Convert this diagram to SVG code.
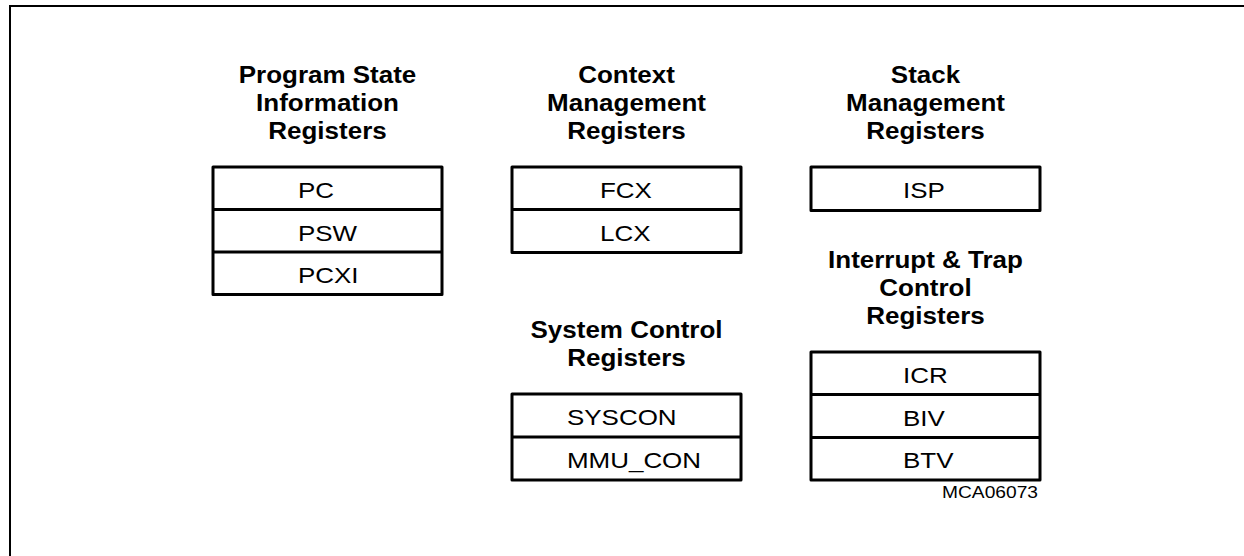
<svg xmlns="http://www.w3.org/2000/svg" width="1244" height="556" viewBox="0 0 1244 556">
  <style>
    .frame { fill: none; stroke: #000; stroke-width: 2; }
    .box { fill: #fff; stroke: #000; stroke-width: 3; stroke-linejoin: round; }
    .sep { stroke: #000; stroke-width: 3; }
    .title { font-family: "Liberation Sans", Arial, sans-serif; font-weight: bold; font-size: 23px; fill: #000; text-anchor: middle; }
    .reg { font-family: "Liberation Sans", Arial, sans-serif; font-size: 22px; fill: #000; text-anchor: start; }
    .code { font-family: "Liberation Sans", Arial, sans-serif; font-size: 16px; fill: #000; text-anchor: end; }
  </style>
  <rect width="1244" height="556" fill="#fff"/>

  <!-- open frame: top and left edges only -->
  <path class="frame" d="M10 556 V6 H1244"/>

  <!-- Program State Information Registers -->
  <g id="program-state">
    <text class="title" transform="translate(327.5 83) scale(1.13 1)"><tspan x="0" y="0">Program State</tspan><tspan x="0" y="28">Information</tspan><tspan x="0" y="56">Registers</tspan></text>
    <rect class="box" x="213" y="167" width="229" height="127.5"/>
    <line class="sep" x1="213" y1="209.5" x2="442" y2="209.5"/>
    <line class="sep" x1="213" y1="252" x2="442" y2="252"/>
    <text class="reg" transform="translate(298 198) scale(1.18 1)">PC</text>
    <text class="reg" transform="translate(298 240.5) scale(1.18 1)">PSW</text>
    <text class="reg" transform="translate(298 283) scale(1.18 1)">PCXI</text>
  </g>

  <!-- Context Management Registers -->
  <g id="context-management">
    <text class="title" transform="translate(626.5 83) scale(1.13 1)"><tspan x="0" y="0">Context</tspan><tspan x="0" y="28">Management</tspan><tspan x="0" y="56">Registers</tspan></text>
    <rect class="box" x="512" y="167" width="229" height="85.5"/>
    <line class="sep" x1="512" y1="209.5" x2="741" y2="209.5"/>
    <text class="reg" transform="translate(600 198) scale(1.18 1)">FCX</text>
    <text class="reg" transform="translate(600 240.5) scale(1.18 1)">LCX</text>
  </g>

  <!-- Stack Management Registers -->
  <g id="stack-management">
    <text class="title" transform="translate(925.5 83) scale(1.13 1)"><tspan x="0" y="0">Stack</tspan><tspan x="0" y="28">Management</tspan><tspan x="0" y="56">Registers</tspan></text>
    <rect class="box" x="811" y="167" width="229" height="43.5"/>
    <text class="reg" transform="translate(903 198) scale(1.18 1)">ISP</text>
  </g>

  <!-- System Control Registers -->
  <g id="system-control">
    <text class="title" transform="translate(626.5 338) scale(1.13 1)"><tspan x="0" y="0">System Control</tspan><tspan x="0" y="28">Registers</tspan></text>
    <rect class="box" x="512" y="394" width="229" height="86"/>
    <line class="sep" x1="512" y1="437" x2="741" y2="437"/>
    <text class="reg" transform="translate(567 425) scale(1.18 1)">SYSCON</text>
    <text class="reg" transform="translate(567 468) scale(1.18 1)">MMU_CON</text>
  </g>

  <!-- Interrupt & Trap Control Registers -->
  <g id="interrupt-trap-control">
    <text class="title" transform="translate(925.5 268) scale(1.13 1)"><tspan x="0" y="0">Interrupt &amp; Trap</tspan><tspan x="0" y="28">Control</tspan><tspan x="0" y="56">Registers</tspan></text>
    <rect class="box" x="811" y="352" width="229" height="128"/>
    <line class="sep" x1="811" y1="394.5" x2="1040" y2="394.5"/>
    <line class="sep" x1="811" y1="437.5" x2="1040" y2="437.5"/>
    <text class="reg" transform="translate(903 383) scale(1.18 1)">ICR</text>
    <text class="reg" transform="translate(903 425.5) scale(1.18 1)">BIV</text>
    <text class="reg" transform="translate(903 468) scale(1.18 1)">BTV</text>
  </g>

  <!-- no connectors in this figure -->
  <g id="connectors"/>

  <text class="code" transform="translate(1038 498) scale(1.2 1)">MCA06073</text>
</svg>
